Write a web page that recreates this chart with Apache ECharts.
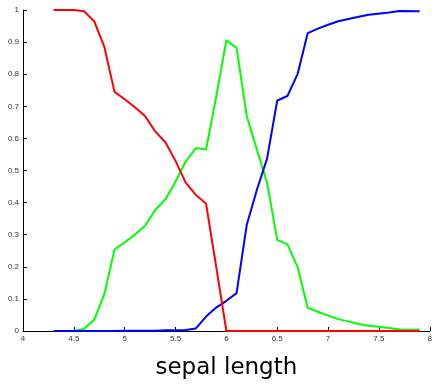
<!DOCTYPE html>
<html>
<head>
<meta charset="utf-8">
<script src="https://cdn.jsdelivr.net/npm/echarts@6/dist/echarts.min.js"></script>
<style>
html,body{margin:0;padding:0;background:#fff;}
#chart{width:435px;height:385px;}
</style>
</head>
<body>
<div id="chart"></div>
<script>
var sepalLength = [4.3,4.4,4.5,4.6,4.7,4.8,4.9,5.0,5.1,5.2,5.3,5.4,5.5,5.6,5.7,5.8,5.9,6.0,6.1,6.2,6.3,6.4,6.5,6.6,6.7,6.8,6.9,7.0,7.1,7.2,7.3,7.4,7.6,7.7,7.9];
var redValues = [1.0,1.0,1.0,0.996,0.965,0.885,0.745,0.722,0.697,0.670,0.622,0.588,0.530,0.462,0.424,0.397,0.200,0,0,0,0,0,0,0,0,0,0,0,0,0,0,0,0,0,0];
var greenValues = [0,0,0.001,0.006,0.035,0.115,0.254,0.276,0.300,0.328,0.377,0.410,0.466,0.528,0.570,0.565,0.730,0.906,0.882,0.670,0.565,0.462,0.284,0.270,0.200,0.072,0.060,0.048,0.037,0.030,0.022,0.016,0.009,0.005,0.004];
var blueValues = [0,0,0,0,0,0,0,0.001,0.001,0.001,0.001,0.002,0.002,0.003,0.008,0.045,0.073,0.094,0.118,0.330,0.440,0.537,0.718,0.732,0.800,0.928,0.942,0.954,0.965,0.972,0.979,0.985,0.992,0.997,0.996];
var xTicks = {min: 4, max: 8, interval: 0.5};
var yTicks = {min: 0, max: 1, interval: 0.1};
var xName = 'sepal length';

function pairs(vals){ return sepalLength.map(function(x,i){ return [x, vals[i]]; }); }

var chart = echarts.init(document.getElementById('chart'), null, {renderer:'canvas'});
var axisCommon = {
  axisLine:{show:true, onZero:false, lineStyle:{color:'#000', width:1}},
  axisTick:{show:true, inside:true, length:4, lineStyle:{color:'#000'}},
  splitLine:{show:false},
  axisLabel:{fontFamily:'Liberation Sans', fontSize:8, color:'#333'}
};
function lineSeries(vals, color){
  return {type:'line', data:pairs(vals), symbol:'none', showSymbol:false,
    lineStyle:{color:color, width:2}, itemStyle:{color:color}, animation:false, z:2};
}
chart.setOption({
  animation:false,
  grid:{left:23, right:2, top:10, bottom:52, containLabel:false},
  xAxis: Object.assign({type:'value', min:xTicks.min, max:xTicks.max, interval:xTicks.interval,
    name:xName, nameLocation:'middle', nameGap:26,
    nameTextStyle:{fontFamily:'DejaVu Sans', fontSize:23, color:'#000'}}, axisCommon,
    {axisLabel:{fontFamily:'Liberation Sans', fontSize:8, color:'#333', margin:4}}),
  yAxis: Object.assign({type:'value', min:yTicks.min, max:yTicks.max, interval:yTicks.interval}, axisCommon,
    {axisLabel:{fontFamily:'Liberation Sans', fontSize:8, color:'#333', margin:4}}),
  series:[
    lineSeries(greenValues, '#00ff00'),
    lineSeries(blueValues, '#0000ff'),
    lineSeries(redValues, '#ff0000')
  ]
});
</script>
</body>
</html>
